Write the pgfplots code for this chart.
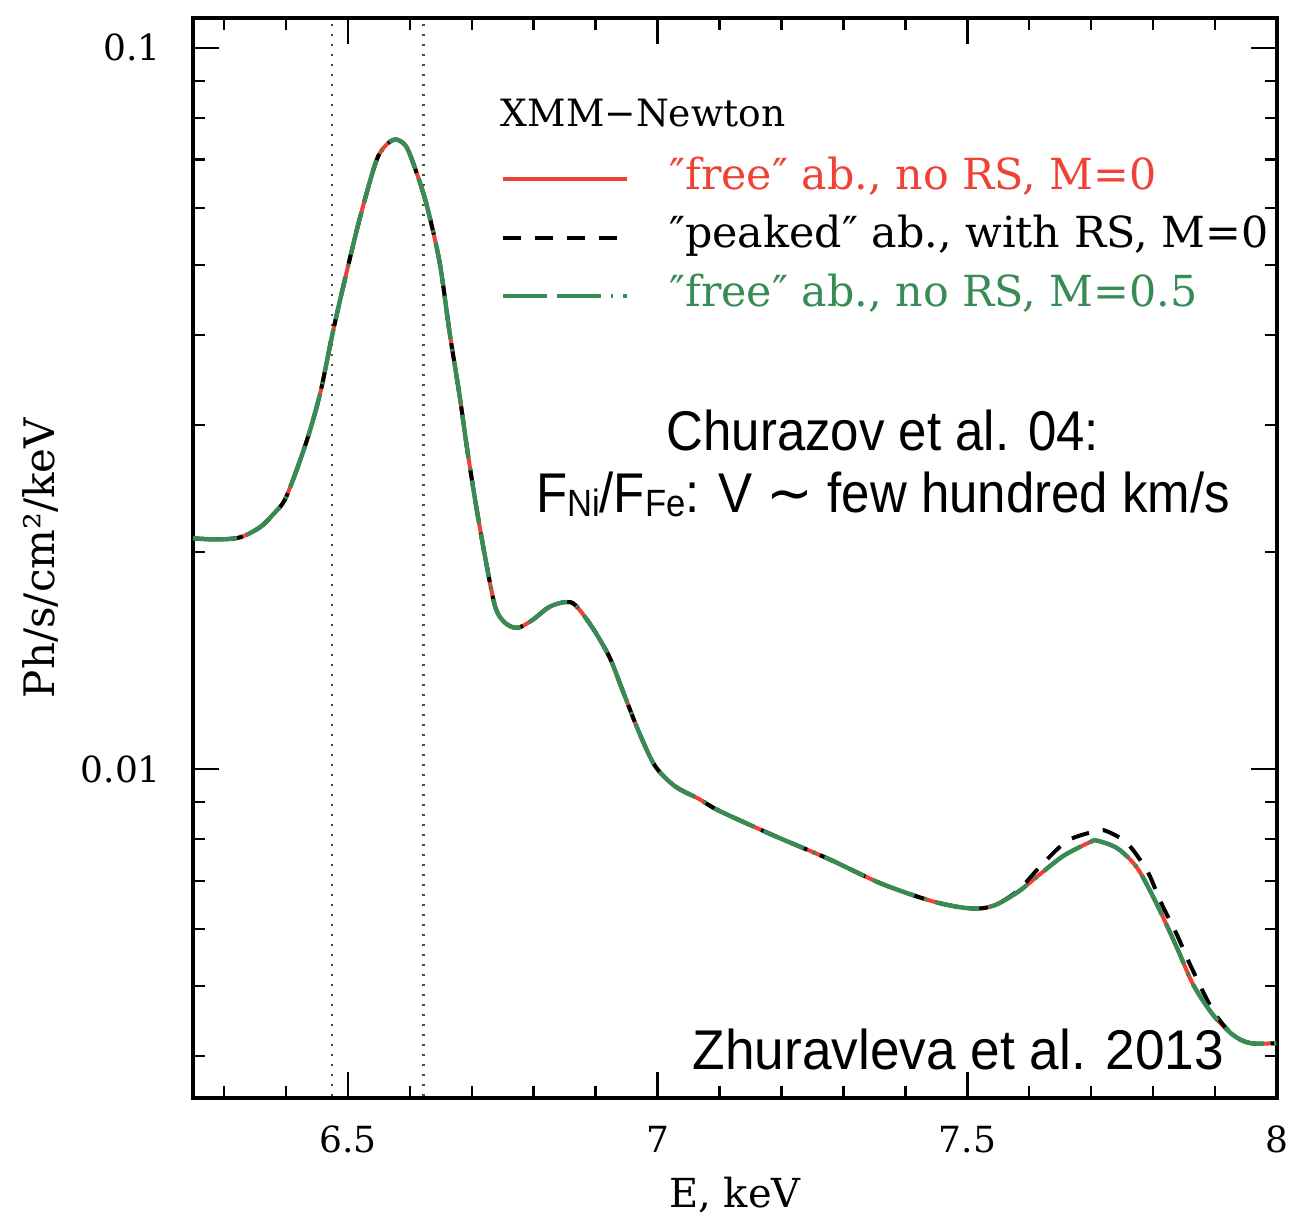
\documentclass[border=0pt]{standalone}
\usepackage{pgfplots}
\pgfplotsset{compat=1.18}
\usepackage{pgfplotstable}
\usepackage{fontspec}
\setmainfont{DejaVu Serif}
\newfontfamily\hel[FakeStretch=0.95]{Liberation Sans}
\newfontfamily\helb[FakeStretch=0.91]{Liberation Sans}
\newfontfamily\dejasans{DejaVu Sans}
\usetikzlibrary{calc}
\definecolor{myred}{RGB}{240,65,55}
\definecolor{mygreen}{RGB}{55,140,85}

\pgfplotstableread{
x y
6.250 0.02089
6.290 0.02082
6.326 0.02096
6.358 0.02164
6.379 0.02254
6.400 0.02380
6.432 0.02825
6.455 0.03311
6.476 0.04044
6.497 0.04846
6.519 0.05791
6.545 0.06939
6.561 0.07324
6.577 0.07465
6.593 0.07324
6.605 0.06939
6.626 0.06111
6.648 0.05050
6.664 0.04044
6.680 0.03311
6.693 0.02763
6.707 0.02319
6.722 0.01960
6.738 0.01678
6.754 0.01595
6.774 0.01570
6.798 0.01610
6.825 0.01678
6.851 0.01705
6.867 0.01689
6.894 0.01575
6.922 0.01432
6.943 0.01289
6.970 0.01125
6.996 0.01010
7.028 0.00947
7.067 0.00909
7.100 0.00875
7.189 0.00808
7.276 0.00751
7.361 0.00694
7.446 0.00655
7.506 0.00641
7.543 0.00647
7.582 0.00676
7.619 0.00717
7.656 0.00759
7.699 0.00793
7.710 0.00796
7.743 0.00776
7.775 0.00728
7.807 0.00647
7.839 0.00564
7.865 0.00502
7.897 0.00456
7.929 0.00428
7.957 0.00417
8.000 0.00417
}\freetab

\pgfplotstableread{
x y
6.250 0.02089
6.290 0.02082
6.326 0.02096
6.358 0.02164
6.379 0.02254
6.400 0.02380
6.432 0.02825
6.455 0.03311
6.476 0.04044
6.497 0.04846
6.519 0.05791
6.545 0.06939
6.561 0.07324
6.577 0.07465
6.593 0.07324
6.605 0.06939
6.626 0.06111
6.648 0.05050
6.664 0.04044
6.680 0.03311
6.693 0.02763
6.707 0.02319
6.722 0.01960
6.738 0.01678
6.754 0.01595
6.774 0.01570
6.798 0.01610
6.825 0.01678
6.851 0.01705
6.867 0.01689
6.894 0.01575
6.922 0.01432
6.943 0.01289
6.970 0.01125
6.996 0.01010
7.028 0.00947
7.067 0.00909
7.100 0.00875
7.189 0.00808
7.276 0.00751
7.361 0.00694
7.446 0.00655
7.506 0.00641
7.543 0.00647
7.582 0.00679
7.619 0.00735
7.662 0.00796
7.710 0.00821
7.727 0.00819
7.759 0.00788
7.791 0.00721
7.812 0.00655
7.839 0.00588
7.860 0.00535
7.897 0.00462
7.929 0.00428
7.957 0.00417
8.000 0.00417
}\peakedtab

\begin{document}
\begin{tikzpicture}
\begin{axis}[
  scale only axis, width=271pt, height=270pt,
  xmin=6.25, xmax=8, ymode=log, ymin=0.0035, ymax=0.11,
  xtick={6.5,7,7.5,8}, xticklabels={6.5,7,7.5,8},
  minor xtick={6.3,6.4,6.6,6.7,6.8,6.9,7.1,7.2,7.3,7.4,7.6,7.7,7.8,7.9},
  ytick={0.01,0.1}, yticklabels={0.01,0.1},
  minor ytick={0.004,0.005,0.006,0.007,0.008,0.009,0.02,0.03,0.04,0.05,0.06,0.07,0.08,0.09},
  major tick length=6.5pt, minor tick length=3pt,
  tick style={black, line width=0.6pt},
  axis line style={line width=0.9pt},
  tick label style={font=\fontsize{9}{9}\selectfont},
  yticklabel style={xshift=-4.5pt},
  xticklabel style={yshift=-3.5pt},
  xlabel={E, keV}, ylabel={Ph/s/cm²/keV},
  xlabel style={at={(axis description cs:0.5,-0.0898)}, anchor=center, font=\fontsize{10}{10}\selectfont},
  ylabel style={at={(axis description cs:-0.141,0.5)}, anchor=center, font=\fontsize{10.5}{10.5}\selectfont},
  legend style={draw=none, fill=none, at={(axis description cs:0.2832,0.870)}, anchor=north west,
    inner sep=0pt, row sep=4.6pt, column sep=10pt,
    nodes={inner sep=0pt, text height=7.5pt, text depth=2.5pt},
    font=\fontsize{10.7}{12}\selectfont},
  legend cell align=left,
  legend image code/.code={\draw[#1] (0pt,0pt) -- (31pt,0pt);},
]
\addplot[gray!60!black, line width=0.6pt, dash pattern=on 0.6pt off 1.9pt, forget plot] coordinates {(6.474,0.003) (6.474,0.2)};
\addplot[gray!60!black, line width=0.6pt, dash pattern=on 0.6pt off 1.9pt, forget plot] coordinates {(6.622,0.003) (6.622,0.2)};

\addplot[myred, line width=1pt, solid, smooth] table[x=x,y=y] {\freetab};
\addlegendentry{{\color{myred}″free″ ab., no RS, M=0}}
\addplot[black, line width=1pt, dash pattern=on 4.5pt off 3.5pt, smooth] table[x=x,y=y] {\peakedtab};
\addlegendentry{″peaked″ ab., with RS, M=0}
\addplot[mygreen, line width=1.1pt, dash pattern=on 11pt off 2.5pt on 11pt off 2.5pt on 0.6pt off 2.5pt, smooth] table[x=x,y=y] {\freetab};
\addlegendentry{{\color{mygreen}″free″ ab., no RS, M=0.5}}

\node[anchor=base west, inner sep=0pt, font=\fontsize{9.4}{12}\selectfont] at (axis description cs:0.2832,0.900) {XMM−Newton};
\node[anchor=north, inner sep=0pt, align=center, font=\helb\fontsize{14}{15.5}\selectfont] at (axis description cs:0.6365,0.6378)
  {Churazov et al. 04:\\F\raisebox{-0.15ex}{\fontsize{9.5}{9.5}\selectfont Ni}/F\raisebox{-0.15ex}{\fontsize{9.5}{9.5}\selectfont Fe}: V {\dejasans ∼} few hundred km/s};
\node[anchor=base east, inner sep=0pt, font=\hel\fontsize{14}{14}\selectfont] at (axis description cs:0.952,0.026) {Zhuravleva et al. 2013};
\end{axis}
\path ($(current axis.south west)+(-48.25pt,-30pt)$) rectangle ($(current axis.north east)+(9pt,4.5pt)$);
\end{tikzpicture}
\end{document}
